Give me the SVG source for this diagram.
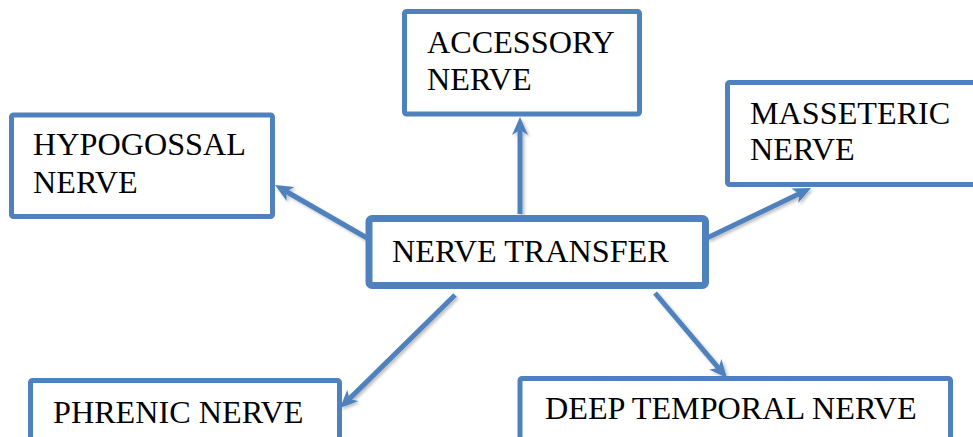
<svg xmlns="http://www.w3.org/2000/svg" width="973" height="437" viewBox="0 0 973 437">
<style>
.box{fill:#fff;stroke:#4F81BD;stroke-width:5}
.main{stroke-width:7}
.lbl{font-family:"Liberation Serif","Times New Roman",serif;font-size:32.2px;fill:#000}
.conn{stroke:#4F81BD;stroke-width:5;fill:none;marker-end:url(#ah);filter:url(#sh)}
</style>
<defs>
<marker id="ah" markerUnits="userSpaceOnUse" markerWidth="20" markerHeight="18" refX="6" refY="8" orient="auto">
<path d="M0,0 L18,8 L0,16 L5,8 z" fill="#4F81BD"/>
</marker>
<filter id="sh" filterUnits="userSpaceOnUse" x="0" y="0" width="973" height="437">
<feDropShadow dx="2" dy="2" stdDeviation="1.5" flood-color="#000" flood-opacity="0.25"/>
</filter>
</defs>
<rect width="973" height="437" fill="#fff"/>
<g id="connectors">
<line class="conn" x1="520" y1="214" x2="520" y2="129"/>
<line class="conn" x1="367" y1="238" x2="285.4" y2="191"/>
<line class="conn" x1="707" y1="238" x2="800.2" y2="193.2"/>
<line class="conn" x1="455" y1="295" x2="348.6" y2="399.6"/>
<line class="conn" x1="655" y1="293" x2="719.2" y2="368.8"/>
</g>
<g id="nerve-transfer">
<rect class="box main" x="369" y="218.5" width="336.5" height="67" rx="3"/>
<text class="lbl" x="392" y="262">NERVE TRANSFER</text>
</g>
<g id="accessory">
<rect class="box" x="404.5" y="11.5" width="235" height="102.5" rx="2"/>
<text class="lbl" x="427" y="53">ACCESSORY</text>
<text class="lbl" x="427" y="90">NERVE</text>
</g>
<g id="hypoglossal">
<rect class="box" x="11.5" y="115" width="261" height="101.5" rx="2"/>
<text class="lbl" x="33" y="155">HYPOGOSSAL</text>
<text class="lbl" x="33" y="193">NERVE</text>
</g>
<g id="masseteric">
<rect class="box" x="727.5" y="82.5" width="260" height="102" rx="2"/>
<text class="lbl" x="750" y="124">MASSETERIC</text>
<text class="lbl" x="750" y="160">NERVE</text>
</g>
<g id="phrenic">
<rect class="box" x="30.5" y="380.5" width="309" height="80" rx="2"/>
<text class="lbl" x="53" y="423">PHRENIC NERVE</text>
</g>
<g id="deep-temporal">
<rect class="box" x="520" y="378.5" width="430.5" height="80" rx="2"/>
<text class="lbl" x="545" y="419">DEEP TEMPORAL NERVE</text>
</g>
</svg>
